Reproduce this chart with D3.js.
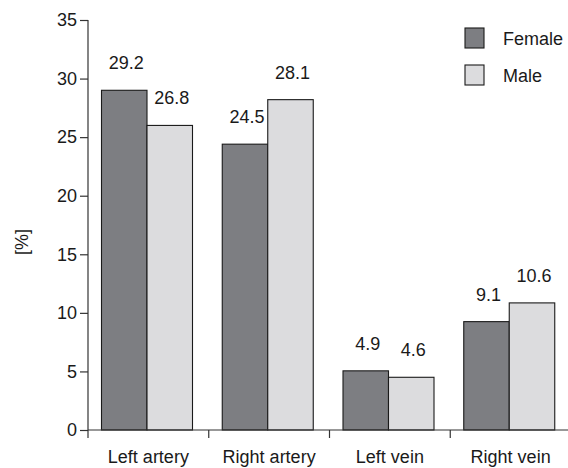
<!DOCTYPE html>
<html><head><meta charset="utf-8">
<script src="https://cdn.jsdelivr.net/npm/d3@7"></script>
<style>
body{margin:0;background:#fff;}
text{font-family:"Liberation Sans",Arial,Helvetica,sans-serif;}
</style></head>
<body><svg id="chart" width="568" height="468"></svg>
<script>
const categories = ["Left artery", "Right artery", "Left vein", "Right vein"];
const seriesNames = ["Female", "Male"];
// bar heights as drawn in the picture
const femaleValues = [29.0, 24.4, 5.05, 9.25];
const maleValues = [26.0, 28.2, 4.5, 10.85];
// printed value labels
const femaleLabels = ["29.2", "24.5", "4.9", "9.1"];
const maleLabels = ["26.8", "28.1", "4.6", "10.6"];
const yTicks = [0, 5, 10, 15, 20, 25, 30, 35];
const colors = ["#7d7e82", "#dcdcde"];
const FS = 18;

const svg = d3.select("#chart");
const y = d3.scaleLinear().domain([0, 35]).range([430, 20]);
const x0 = d3.scaleBand().domain(categories).range([88, 571]).padding(0);
const bw = x0.bandwidth();
const x1 = d3.scaleBand().domain(seriesNames).range([13.5, 13.5 + 91]).padding(0);

const data = categories.map((c, i) => ({
  cat: c,
  vals: [
    {s: "Female", v: femaleValues[i], l: femaleLabels[i]},
    {s: "Male", v: maleValues[i], l: maleLabels[i]}
  ]
}));

// bars
const g = svg.selectAll("g.grp").data(data).enter().append("g")
  .attr("transform", d => `translate(${x0(d.cat)},0)`);
g.selectAll("rect").data(d => d.vals).enter().append("rect")
  .attr("x", d => x1(d.s))
  .attr("y", d => y(d.v))
  .attr("width", x1.bandwidth())
  .attr("height", d => y(0) - y(d.v))
  .attr("fill", d => colors[seriesNames.indexOf(d.s)])
  .attr("stroke", "#1a1a1a").attr("stroke-width", 1.1);
g.selectAll("text").data(d => d.vals).enter().append("text")
  .attr("x", d => x1(d.s) + x1.bandwidth() / 2 + 2)
  .attr("y", d => y(d.v) - 21)
  .attr("text-anchor", "middle")
  .attr("font-size", FS).attr("fill", "#1a1a1a")
  .text(d => d.l);

// y axis
const yAxis = d3.axisLeft(y).tickValues(yTicks).tickSize(8).tickPadding(3);
const ya = svg.append("g").attr("transform", "translate(88,0)").call(yAxis);
ya.select(".domain").remove();
ya.selectAll("line").attr("stroke", "#333").attr("stroke-width", 1.2);
ya.selectAll("text").attr("font-size", FS).attr("fill", "#1a1a1a")
  .attr("font-family", '"Liberation Sans",Arial,sans-serif');
svg.append("line").attr("x1", 88).attr("x2", 88).attr("y1", y(35)).attr("y2", 438)
  .attr("stroke", "#333").attr("stroke-width", 1.2);

// x axis
svg.append("line").attr("x1", 88).attr("x2", 568).attr("y1", y(0)).attr("y2", y(0))
  .attr("stroke", "#333").attr("stroke-width", 1.2);
svg.selectAll("line.xt").data(categories.slice(1)).enter().append("line")
  .attr("class", "xt")
  .attr("x1", d => x0(d)).attr("x2", d => x0(d))
  .attr("y1", y(0)).attr("y2", 438)
  .attr("stroke", "#333").attr("stroke-width", 1.2);
svg.selectAll("text.xl").data(categories).enter().append("text")
  .attr("class", "xl")
  .attr("x", d => x0(d) + bw / 2)
  .attr("y", 463)
  .attr("text-anchor", "middle")
  .attr("font-size", FS).attr("fill", "#1a1a1a")
  .text(d => d);

// y label
svg.append("text")
  .attr("transform", "translate(28,242) rotate(-90)")
  .attr("text-anchor", "middle")
  .attr("font-size", FS).attr("fill", "#1a1a1a")
  .text("[%]");

// legend
const lg = svg.selectAll("g.lg").data(seriesNames).enter().append("g")
  .attr("transform", (d, i) => `translate(465,${28 + i * 37})`);
lg.append("rect").attr("width", 19).attr("height", 20)
  .attr("fill", (d, i) => colors[i]).attr("stroke", "#1a1a1a").attr("stroke-width", 1.1);
lg.append("text").attr("x", 38).attr("y", 17)
  .attr("font-size", FS).attr("fill", "#1a1a1a")
  .text(d => d);
</script>
</body></html>
